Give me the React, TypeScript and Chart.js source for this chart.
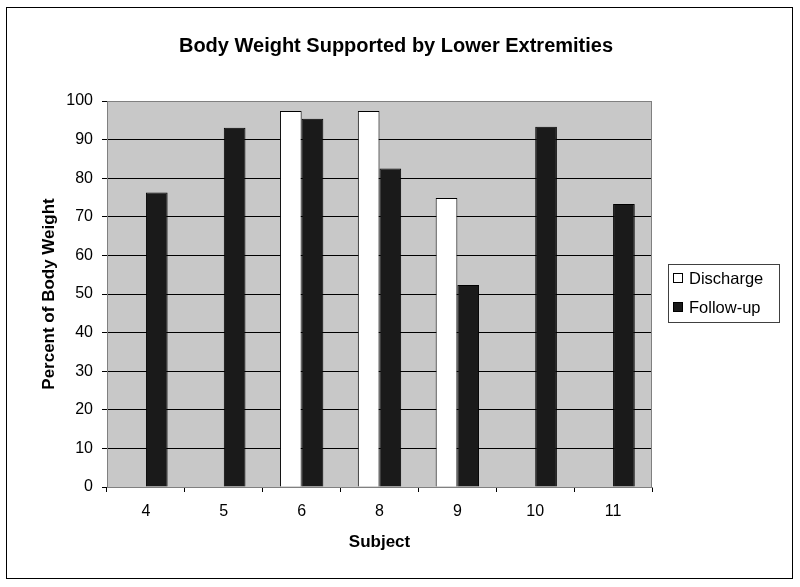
import React, { useEffect, useRef } from "react";
import { Chart, registerables } from "chart.js";

Chart.register(...registerables);

const subjects = ["4", "5", "6", "8", "9", "10", "11"];
const discharge: (number | null)[] = [null, null, 97.4, 97.4, 74.9, null, null];
const followUp: number[] = [76.3, 93.1, 95.4, 82.5, 52.3, 93.3, 73.3];
const seriesNames = ["Discharge", "Follow-up"];
const chartTitle = "Body Weight Supported by Lower Extremities";
const yTitle = "Percent of Body Weight";
const xTitle = "Subject";

const FONT = "'Liberation Sans', Arial, sans-serif";
const PLOT_BG = "#c8c8c8";
const DARK = "#1a1a1a";

const framePlugin = {
  id: "frame",
  beforeDraw(chart: any) {
    const { ctx, chartArea: a, width, height } = chart;
    ctx.save();
    ctx.fillStyle = "#ffffff";
    ctx.fillRect(0, 0, width, height);
    ctx.fillStyle = PLOT_BG;
    ctx.fillRect(a.left, a.top, a.right - a.left, a.bottom - a.top);
    ctx.restore();
  },
  afterDraw(chart: any) {
    const { ctx, chartArea: a } = chart;
    ctx.save();
    // plot border
    ctx.strokeStyle = "#808080";
    ctx.lineWidth = 1;
    ctx.strokeRect(Math.round(a.left) + 0.5, Math.round(a.top) + 0.5, Math.round(a.right - a.left) - 1, Math.round(a.bottom - a.top));
    // outer border
    ctx.strokeStyle = "#000";
    ctx.strokeRect(6.5, 7.5, 786, 571);
    // title
    ctx.fillStyle = "#000";
    ctx.textAlign = "center";
    ctx.textBaseline = "middle";
    ctx.font = `bold 20px ${FONT}`;
    ctx.fillText(chartTitle, 396, 46);
    // x title
    ctx.font = `bold 17px ${FONT}`;
    ctx.fillText(xTitle, (a.left + a.right) / 2, 542);
    // y title
    ctx.save();
    ctx.translate(49, 294);
    ctx.rotate(-Math.PI / 2);
    ctx.fillText(yTitle, 0, 0);
    ctx.restore();
    // legend
    ctx.strokeStyle = "#404040";
    ctx.strokeRect(668.5, 264.5, 111, 58);
    ctx.font = `16.5px ${FONT}`;
    ctx.textAlign = "left";
    const ys = [278, 307];
    const fills = ["#ffffff", DARK];
    seriesNames.forEach((n, i) => {
      ctx.fillStyle = fills[i];
      ctx.fillRect(673.5, ys[i] - 4.5, 9, 9);
      ctx.strokeStyle = "#000";
      ctx.strokeRect(673.5, ys[i] - 4.5, 9, 9);
      ctx.fillStyle = "#000";
      ctx.fillText(n, 689, ys[i] + 1);
    });
    ctx.restore();
  },
};

export default function App() {
  const ref = useRef<HTMLCanvasElement>(null);
  useEffect(() => {
    document.body.style.margin = "0";
    const chart = new Chart(ref.current!, {
      type: "bar",
      data: {
        labels: subjects,
        datasets: [
          {
            label: seriesNames[0],
            data: discharge,
            backgroundColor: "#ffffff",
            borderColor: "#000",
            borderWidth: 1,
            categoryPercentage: 0.557,
            barPercentage: 1,
          },
          {
            label: seriesNames[1],
            data: followUp,
            backgroundColor: DARK,
            borderColor: "#000",
            borderWidth: 1,
            categoryPercentage: 0.557,
            barPercentage: 1,
          },
        ],
      },
      options: {
        animation: false,
        responsive: false,
        devicePixelRatio: 1,
        layout: { padding: { left: 0, right: 148, top: 101, bottom: 0 } },
        plugins: { legend: { display: false }, title: { display: false }, tooltip: { enabled: false } },
        scales: {
          x: {
            type: "category",
            offset: true,
            grid: {
              offset: true,
              drawOnChartArea: false,
              drawTicks: true,
              tickLength: 5,
              tickColor: "#000",
            },
            border: { display: true, color: "#808080" },
            ticks: { color: "#000", font: { family: FONT, size: 16 }, padding: 10, maxRotation: 0 },
            afterFit: (s: any) => {
              s.height = 100;
            },
          },
          y: {
            min: 0,
            max: 100,
            ticks: { stepSize: 10, color: "#000", font: { family: FONT, size: 16 }, padding: 9 },
            grid: {
              color: (c: any) => (c.tick && (c.tick.value === 0 || c.tick.value === 100) ? "rgba(0,0,0,0)" : "#000"),
              tickColor: "#000",
              tickLength: 5,
              lineWidth: 1,
            },
            border: { display: true, color: "#808080" },
            afterFit: (s: any) => {
              s.width = 107;
            },
          },
        },
      },
      plugins: [framePlugin],
    });
    return () => chart.destroy();
  }, []);
  return <canvas ref={ref} width={800} height={587} style={{ display: "block" }} />;
}
